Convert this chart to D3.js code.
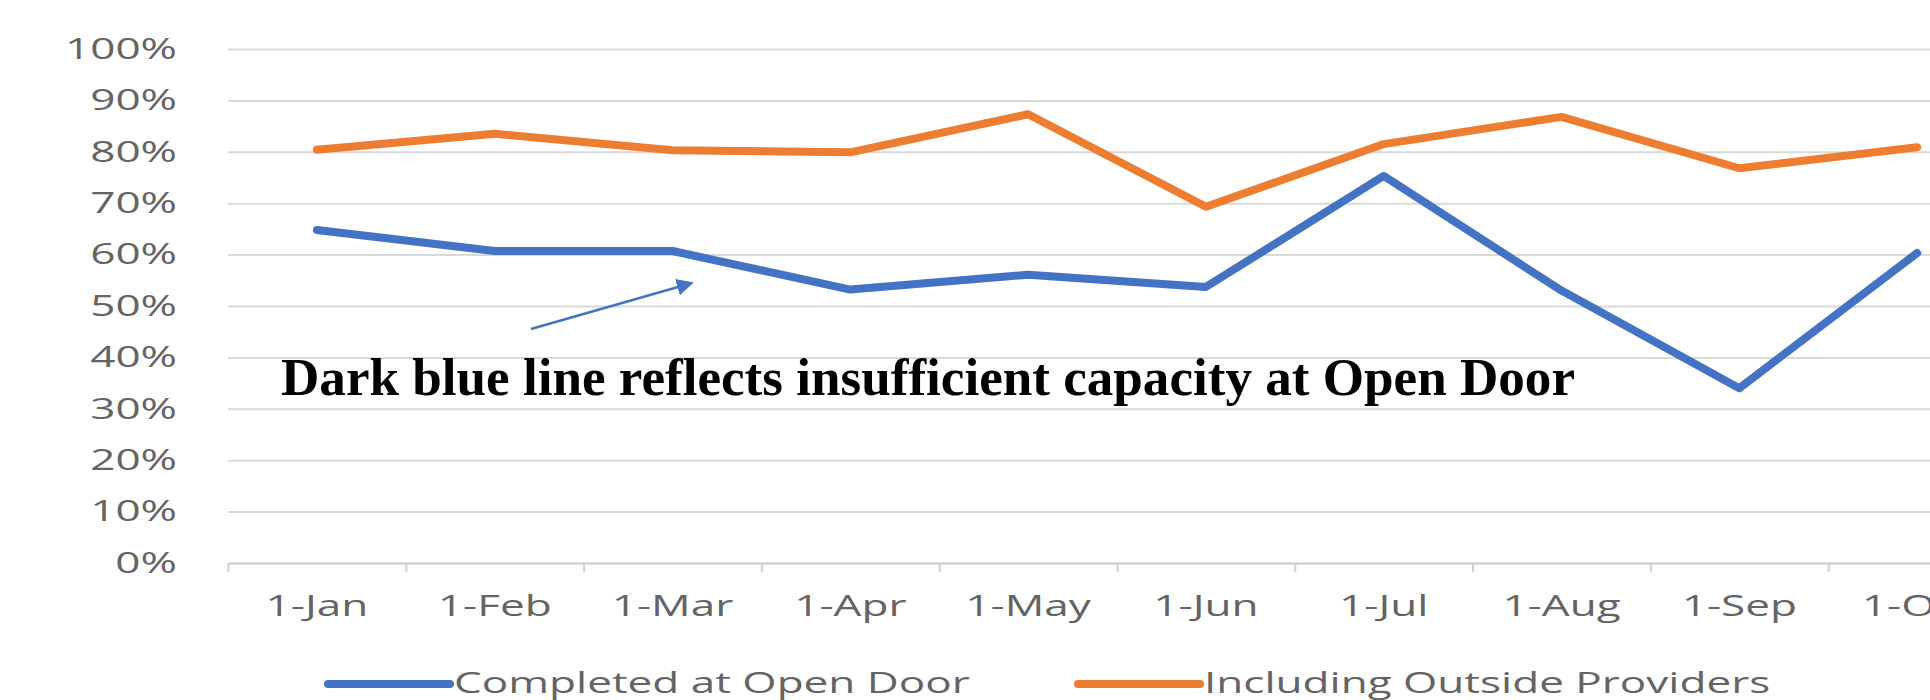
<!DOCTYPE html>
<html>
<head>
<meta charset="utf-8">
<script src="https://cdnjs.cloudflare.com/ajax/libs/d3/7.8.5/d3.min.js"></script>
<style>
  html, body { margin: 0; padding: 0; background: #fff; }
  svg { display: block; }
</style>
</head>
<body>
<div id="chart"></div>
<script>
// data
var months = ["1-Jan", "1-Feb", "1-Mar", "1-Apr", "1-May", "1-Jun", "1-Jul", "1-Aug", "1-Sep", "1-Oct"];
var completedAtOpenDoor = [0.648, 0.607, 0.607, 0.532, 0.561, 0.537, 0.753, 0.530, 0.340, 0.603];
var includingOutside = [0.804, 0.835, 0.803, 0.799, 0.873, 0.693, 0.815, 0.868, 0.768, 0.809];
var yTicks = [0, 0.1, 0.2, 0.3, 0.4, 0.5, 0.6, 0.7, 0.8, 0.9, 1];
var seriesNames = ["Completed at Open Door", "Including Outside Providers"];
var note = "Dark blue line reflects insufficient capacity at Open Door";

(function(){
  var W = 1930, H = 700;
  var left = 228, step = 177.8;
  var plotTop = 49, plotBottom = 563;
  var stretch = 1.52; // the source image is widened sideways

  var colors = ["#4472C4", "#ED7D31"];
  var series = [completedAtOpenDoor, includingOutside];

  var svg = d3.select('#chart').append('svg')
    .attr('width', W).attr('height', H);

  var x = d3.scaleBand().domain(months).range([left, left + step * months.length]).padding(0);
  var y = d3.scaleLinear().domain([0, 1]).range([plotBottom, plotTop]);

  // horizontal gridlines + y labels
  var pad = 51;
  var yAxis = svg.append('g')
    .attr('transform', 'translate(' + left + ',0)')
    .call(d3.axisLeft(y).tickValues(yTicks).tickFormat(d3.format('.0%'))
      .tickSize(-(W - left)).tickPadding(pad));
  yAxis.select('.domain').remove();
  yAxis.selectAll('line').attr('stroke', '#d9d9d9').attr('stroke-width', 2)
    .filter(function(d){ return d === 0; }).remove();
  yAxis.selectAll('text')
    .attr('x', -pad / stretch)
    .attr('transform', 'scale(' + stretch + ',1)')
    .style('font-family', '"Open Sans", sans-serif')
    .style('font-size', '29px')
    .style('fill', '#646464');

  // x axis line and boundary ticks
  var bounds = d3.scaleLinear().domain([0, months.length]).range([left, left + step * months.length]);
  var tickAxis = svg.append('g')
    .attr('transform', 'translate(0,' + plotBottom + ')')
    .call(d3.axisBottom(bounds).ticks(months.length).tickFormat('').tickSize(9).tickSizeOuter(0));
  tickAxis.select('.domain').attr('stroke', '#c8c8c8').attr('stroke-width', 2);
  tickAxis.selectAll('line').attr('stroke', '#d0d0d0').attr('stroke-width', 2);

  // x labels
  var xAxis = svg.append('g')
    .attr('transform', 'translate(0,' + plotBottom + ')')
    .call(d3.axisBottom(x).tickSize(0).tickPadding(32));
  xAxis.select('.domain').remove();
  xAxis.selectAll('text')
    .attr('transform', 'scale(' + stretch + ',1)')
    .attr('x', 0)
    .style('font-family', '"Open Sans", sans-serif')
    .style('font-size', '29px')
    .style('fill', '#646464');

  // lines
  var line = d3.line()
    .x(function(d, i){ return x(months[i]) + x.bandwidth() / 2; })
    .y(function(d){ return y(d); });

  svg.selectAll('path.series').data(series).enter()
    .append('path')
    .attr('class', 'series')
    .attr('d', line)
    .attr('fill', 'none')
    .attr('stroke', function(d, i){ return colors[i]; })
    .attr('stroke-width', 8)
    .attr('stroke-linejoin', 'round')
    .attr('stroke-linecap', 'round');

  // annotation arrow
  svg.append('defs').append('marker')
    .attr('id', 'head')
    .attr('viewBox', '0 0 10 10')
    .attr('refX', 9).attr('refY', 5)
    .attr('markerWidth', 7).attr('markerHeight', 7)
    .attr('orient', 'auto')
    .append('path').attr('d', 'M0,0L10,5L0,10Z').attr('fill', '#4472C4');

  svg.append('line')
    .attr('x1', 531).attr('y1', 329)
    .attr('x2', 692).attr('y2', 283)
    .attr('stroke', '#4472C4').attr('stroke-width', 2.4)
    .attr('marker-end', 'url(#head)');

  svg.append('text')
    .attr('x', 281).attr('y', 395)
    .attr('textLength', 1294).attr('lengthAdjust', 'spacingAndGlyphs')
    .style('font-family', '"Liberation Serif", "Times New Roman", serif')
    .style('font-weight', 'bold')
    .style('font-size', '53px')
    .style('fill', '#000')
    .text(note);

  // legend
  var legendX = [328, 1078];
  var legend = svg.selectAll('g.legend').data(seriesNames).enter()
    .append('g').attr('class', 'legend')
    .attr('transform', function(d, i){ return 'translate(' + legendX[i] + ',684)'; });
  legend.append('line')
    .attr('x1', 0).attr('x2', 122).attr('y1', 0).attr('y2', 0)
    .attr('stroke', function(d, i){ return colors[i]; })
    .attr('stroke-width', 8).attr('stroke-linecap', 'round');
  legend.append('text')
    .attr('x', 126 / stretch).attr('y', 0).attr('dy', '0.32em')
    .attr('transform', 'scale(' + stretch + ',1)')
    .style('font-family', '"Open Sans", sans-serif')
    .style('font-size', '29px')
    .style('fill', '#646464')
    .text(function(d){ return d; });
})();
</script>
</body>
</html>
